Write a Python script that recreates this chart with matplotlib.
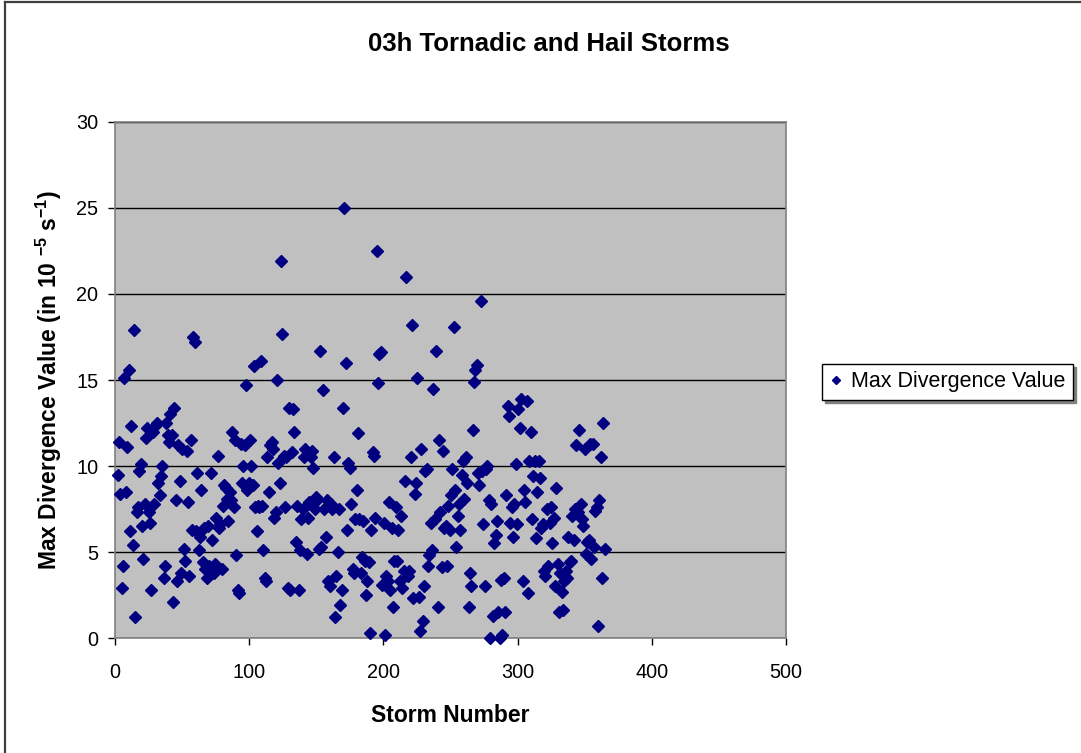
import numpy as np
import matplotlib
matplotlib.use('Agg')
from matplotlib import pyplot as plt
from matplotlib.lines import Line2D

plt.rcParams['font.family'] = ['Liberation Sans', 'DejaVu Sans']
plt.rcParams['mathtext.fontset'] = 'custom'
plt.rcParams['mathtext.bf'] = 'Liberation Sans:bold'
plt.rcParams['mathtext.rm'] = 'Liberation Sans:bold'
plt.rcParams['mathtext.default'] = 'bf'

# Max divergence value for each storm (storm 2 onwards).
max_div = [
    9.5, 11.4, 8.4, 2.9, 4.2, 15.1, 8.5, 11.1, 15.6, 6.2,
    12.3, 5.4, 17.9, 1.2, 7.3, 7.6, 9.7, 10.1, 6.5, 4.6,
    7.8, 11.6, 12.2, 7.3, 6.7, 2.8, 12.0, 7.8, 12.3, 12.5,
    9.0, 8.3, 9.4, 10.0, 3.5, 4.2, 12.5, 11.8, 11.4, 13.0,
    11.8, 2.1, 13.4, 8.0, 3.3, 11.2, 9.1, 3.8, 11.0, 5.2,
    4.5, 10.9, 7.9, 3.6, 11.5, 6.3, 17.5, 17.2, 6.2, 9.6,
    5.1, 5.9, 8.6, 4.4, 6.4, 4.0, 3.5, 6.5, 4.2, 9.6,
    5.7, 3.8, 4.3, 7.0, 10.6, 6.4, 6.6, 4.0, 7.7, 8.9,
    8.7, 8.1, 6.8, 8.5, 8.0, 12.0, 7.6, 11.5, 4.8, 2.8,
    2.6, 11.3, 9.0, 10.0, 11.2, 14.7, 8.6, 9.0, 11.5, 10.0,
    8.9, 15.8, 7.6, 6.2, 7.7, 7.6, 16.1, 7.7, 5.1, 3.5,
    3.3, 10.5, 8.5, 11.2, 11.4, 11.0, 7.0, 7.3, 15.0, 10.2,
    9.0, 21.9, 17.7, 10.6, 7.6, 10.5, 2.9, 13.4, 2.8, 10.8,
    13.3, 12.0, 5.6, 7.7, 2.8, 5.1, 6.9, 7.5, 10.5, 11.0,
    4.9, 7.0, 7.9, 10.5, 10.9, 9.9, 7.5, 8.2, 8.0, 5.2,
    16.7, 5.3, 14.4, 7.5, 5.9, 8.0, 3.3, 3.0, 7.8, 7.5,
    10.5, 1.2, 3.6, 5.0, 7.5, 1.9, 2.8, 13.4, 25.0, 16.0,
    6.3, 10.2, 9.9, 7.8, 4.0, 3.8, 6.9, 8.6, 11.9, 6.9,
    3.8, 4.7, 6.8, 4.5, 2.5, 3.3, 4.4, 0.3, 6.3, 10.8,
    10.6, 7.0, 22.5, 14.8, 16.5, 16.6, 3.1, 6.7, 0.2, 3.6,
    3.3, 7.9, 2.8, 6.4, 1.8, 4.5, 7.6, 4.5, 6.3, 3.3,
    7.1, 2.9, 3.9, 9.1, 21.0, 3.6, 3.9, 10.5, 18.2, 2.3,
    8.4, 9.0, 15.1, 2.4, 0.4, 11.0, 1.0, 3.0, 9.7, 9.8,
    4.2, 4.8, 6.7, 5.1, 14.5, 6.9, 16.7, 1.8, 11.5, 7.3,
    4.1, 10.9, 6.4, 6.5, 4.2, 7.7, 6.3, 8.3, 9.8, 18.1,
    8.6, 5.3, 7.1, 7.8, 6.3, 9.5, 10.3, 8.1, 10.5, 9.0,
    1.8, 3.8, 3.0, 12.1, 14.9, 15.6, 15.9, 9.6, 8.9, 19.6,
    9.7, 6.6, 3.0, 9.8, 10.0, 8.0, 0.0, 7.8, 1.3, 5.5,
    6.0, 6.8, 1.5, 0.0, 3.4, 0.2, 3.5, 1.5, 8.3, 13.5,
    12.9, 6.7, 7.6, 5.9, 7.8, 10.1, 6.6, 13.3, 12.2, 13.9,
    3.3, 8.6, 7.9, 13.8, 2.6, 10.3, 12.0, 6.9, 9.4, 10.3,
    5.8, 8.5, 10.3, 9.3, 6.4, 6.6, 3.9, 3.6, 7.5, 4.2,
    6.7, 7.6, 5.5, 7.0, 3.0, 8.7, 4.3, 1.5, 3.8, 2.7,
    1.6, 3.3, 3.9, 3.5, 5.9, 4.4, 4.5, 7.1, 5.7, 7.5,
    11.2, 7.3, 12.1, 7.8, 6.9, 6.5, 11.0, 4.9, 5.6, 5.7,
    11.3, 4.6, 11.3, 5.3, 7.4, 7.6, 0.7, 8.0, 10.5, 3.5,
    12.5, 5.2,
]
storm_num = np.arange(2, len(max_div) + 2) * 365.0 / (len(max_div) + 1)

fig = plt.figure(figsize=(10.81, 7.53), dpi=100)
# chart area border (only left and top edges are visible in the picture)
fig.add_artist(Line2D([0.005, 0.005], [0, 0.998], transform=fig.transFigure,
                      color='#404040', linewidth=1.6))
fig.add_artist(Line2D([0.005, 1], [0.998, 0.998], transform=fig.transFigure,
                      color='#404040', linewidth=1.6))

ax = fig.add_axes([0.1064, 0.1527, 0.6207, 0.6853])
ax.set_facecolor('#C0C0C0')
ax.plot(storm_num, max_div, linestyle='none', marker='D', markersize=6.3,
        color='#000080', label='Max Divergence Value', clip_on=False, zorder=3)

ax.set_xlim(0, 500)
ax.set_ylim(0, 30)
ax.set_xticks(range(0, 501, 100))
ax.set_yticks(range(0, 31, 5))
ax.yaxis.grid(True, color='black', linewidth=1)
ax.set_axisbelow(True)
for s in ax.spines.values():
    s.set_color('#808080')
    s.set_linewidth(1.2)
ax.tick_params(direction='out', length=5, width=1, color='black', labelsize=14.3)
ax.tick_params(axis='y', pad=7)
ax.tick_params(axis='x', pad=13)

ax.set_xlabel('Storm Number', fontsize=16.5, fontweight='bold', labelpad=16)
ax.set_ylabel(r'Max Divergence Value (in 10 $^{-5}$ s$^{-1}$)', fontsize=16.5,
              fontweight='bold', labelpad=9)
fig.text(0.508, 0.941, '03h Tornadic and Hail Storms', ha='center', va='center',
         fontsize=18.5, fontweight='bold')

leg = fig.legend(loc='center left', bbox_to_anchor=(0.7604, 0.493), fontsize=15.5,
                 fancybox=False, edgecolor='black', framealpha=1, markerscale=0.6,
                 handlelength=0.6, handletextpad=0.4, borderpad=0.35,
                 borderaxespad=0, shadow={'color': '#808080', 'alpha': 1})
leg.get_frame().set_linewidth(1)

fig.savefig('out.png', dpi=100)
